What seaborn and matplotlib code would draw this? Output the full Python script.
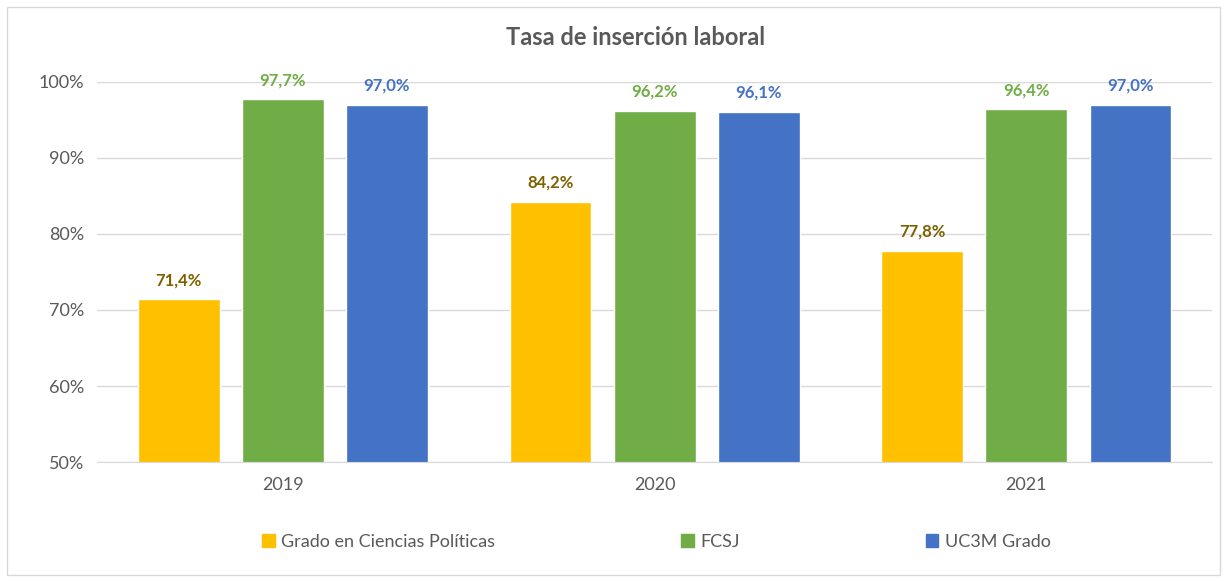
import matplotlib
matplotlib.use("Agg")
import matplotlib.pyplot as plt
from matplotlib.patches import Rectangle
import pandas as pd
import seaborn as sns

# datos
years = ["2019", "2020", "2021"]
series = ["Grado en Ciencias Políticas", "FCSJ", "UC3M Grado"]
ccpp = [71.4, 84.2, 77.8]
fcsj = [97.7, 96.2, 96.4]
uc3m = [97.0, 96.1, 97.0]

bar_colors = ["#FFC000", "#70AD47", "#4472C4"]
label_colors = ["#7F6000", "#70AD47", "#4472C4"]

df = pd.DataFrame({
    "year": years * 3,
    "serie": [series[0]] * 3 + [series[1]] * 3 + [series[2]] * 3,
    "value": ccpp + fcsj + uc3m,
})

sns.set_style("white")
plt.rcParams["font.family"] = ["Lato", "DejaVu Sans"]

fig = plt.figure(figsize=(12.27, 5.81), dpi=100)
ax = fig.add_axes([0.079, 0.2048, 0.909, 0.6541])

sns.barplot(data=df, x="year", y="value", hue="serie", palette=bar_colors,
            width=0.84, gap=0.214, ax=ax, legend=False, saturation=1)

ax.set_ylim(50, 100)
ax.set_xlim(-0.5, 2.5)
ax.set_yticks([50, 60, 70, 80, 90, 100])
ax.set_yticklabels([f"{t}%" for t in [50, 60, 70, 80, 90, 100]])
ax.yaxis.grid(True, color="#D9D9D9", linewidth=1)
ax.set_axisbelow(True)
for s in ["top", "right", "left"]:
    ax.spines[s].set_visible(False)
ax.spines["bottom"].set_color("#D9D9D9")
ax.tick_params(axis="both", length=0, labelsize=13, colors="#595959", pad=9)
ax.tick_params(axis="x", pad=11)
ax.set_xlabel("")
ax.set_ylabel("")

for cont, col in zip(ax.containers, label_colors):
    ax.bar_label(cont, labels=[f"{v:.1f}%".replace(".", ",") for v in cont.datavalues],
                 padding=8, color=col, fontsize=12, fontweight="bold")

fig.text(0.518, 0.935, "Tasa de inserción laboral", ha="center", va="center",
         fontsize=17, fontweight="bold", color="#595959")

handles = [Rectangle((0, 0), 1, 1, color=c) for c in bar_colors]
fig.legend(handles, series, loc="center", bbox_to_anchor=(0.535, 0.067), ncol=3,
           frameon=False, fontsize=13, labelcolor="#595959", handlelength=0.7,
           handleheight=0.7, handletextpad=0.35, columnspacing=10.3)

fig.patches.append(Rectangle((0.006, 0.01), 0.988, 0.978, transform=fig.transFigure,
                             fill=False, edgecolor="#D9D9D9", linewidth=1))

fig.savefig("out.png", dpi=100)
